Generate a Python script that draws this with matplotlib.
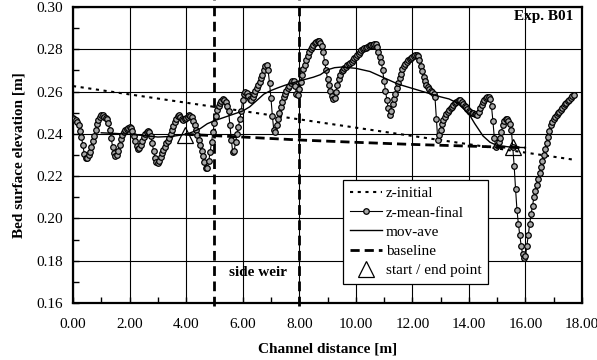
import numpy as np
import matplotlib
matplotlib.use("Agg")
import matplotlib.pyplot as plt
from matplotlib.ticker import MultipleLocator, FormatStrFormatter

plt.rcParams['font.family'] = ['Liberation Serif', 'DejaVu Serif']

# ---------------- data ----------------
# z-mean-final (read every 0.05 m)
zfinal_y = [
    0.2474, 0.2472, 0.2465, 0.2455, 0.2440, 0.2415, 0.2385, 0.2345, 0.2305, 0.2288,
    0.2288, 0.2298, 0.2315, 0.2340, 0.2365, 0.2392, 0.2420, 0.2445, 0.2465, 0.2480,
    0.2488, 0.2490, 0.2482, 0.2475, 0.2468, 0.2450, 0.2420, 0.2380, 0.2340, 0.2310,
    0.2295, 0.2302, 0.2320, 0.2348, 0.2375, 0.2395, 0.2410, 0.2418, 0.2425, 0.2430,
    0.2433, 0.2428, 0.2415, 0.2392, 0.2365, 0.2342, 0.2330, 0.2332, 0.2345, 0.2365,
    0.2385, 0.2400, 0.2408, 0.2412, 0.2410, 0.2390, 0.2355, 0.2318, 0.2285, 0.2268,
    0.2262, 0.2272, 0.2290, 0.2308, 0.2325, 0.2340, 0.2355, 0.2368, 0.2380, 0.2398,
    0.2420, 0.2438, 0.2455, 0.2472, 0.2485, 0.2488, 0.2478, 0.2470, 0.2465, 0.2468,
    0.2475, 0.2482, 0.2488, 0.2486, 0.2478, 0.2462, 0.2440, 0.2418, 0.2395, 0.2370,
    0.2345, 0.2320, 0.2295, 0.2268, 0.2240, 0.2238, 0.2270, 0.2315, 0.2360, 0.2410,
    0.2450, 0.2485, 0.2515, 0.2532, 0.2545, 0.2557, 0.2565, 0.2560, 0.2550, 0.2532,
    0.2510, 0.2440, 0.2370, 0.2312, 0.2320, 0.2360, 0.2400, 0.2432, 0.2470, 0.2510,
    0.2560, 0.2590, 0.2600, 0.2592, 0.2580, 0.2565, 0.2560, 0.2572, 0.2590, 0.2602,
    0.2615, 0.2630, 0.2645, 0.2662, 0.2680, 0.2700, 0.2720, 0.2725, 0.2700, 0.2640,
    0.2570, 0.2485, 0.2420, 0.2410, 0.2440, 0.2470, 0.2500, 0.2528, 0.2550, 0.2572,
    0.2590, 0.2605, 0.2615, 0.2628, 0.2640, 0.2648, 0.2650, 0.2628, 0.2590, 0.2585,
    0.2610, 0.2645, 0.2680, 0.2705, 0.2725, 0.2748, 0.2770, 0.2786, 0.2800, 0.2810,
    0.2820, 0.2828, 0.2835, 0.2840, 0.2840, 0.2832, 0.2815, 0.2785, 0.2740, 0.2700,
    0.2660, 0.2630, 0.2605, 0.2580, 0.2563, 0.2570, 0.2600, 0.2632, 0.2660, 0.2680,
    0.2695, 0.2703, 0.2710, 0.2718, 0.2725, 0.2730, 0.2735, 0.2742, 0.2750, 0.2758,
    0.2765, 0.2772, 0.2780, 0.2788, 0.2795, 0.2800, 0.2805, 0.2808, 0.2812, 0.2816,
    0.2820, 0.2821, 0.2822, 0.2824, 0.2825, 0.2810, 0.2785, 0.2765, 0.2740, 0.2700,
    0.2650, 0.2605, 0.2560, 0.2520, 0.2490, 0.2510, 0.2540, 0.2565, 0.2590, 0.2615,
    0.2640, 0.2662, 0.2685, 0.2705, 0.2720, 0.2730, 0.2740, 0.2748, 0.2755, 0.2760,
    0.2765, 0.2770, 0.2775, 0.2775, 0.2770, 0.2750, 0.2720, 0.2695, 0.2670, 0.2648,
    0.2630, 0.2620, 0.2610, 0.2605, 0.2600, 0.2590, 0.2575, 0.2470, 0.2370, 0.2395,
    0.2420, 0.2445, 0.2465, 0.2480, 0.2495, 0.2505, 0.2515, 0.2520, 0.2527, 0.2535,
    0.2545, 0.2550, 0.2555, 0.2558, 0.2560, 0.2550, 0.2540, 0.2532, 0.2525, 0.2518,
    0.2510, 0.2505, 0.2500, 0.2498, 0.2495, 0.2492, 0.2490, 0.2505, 0.2520, 0.2535,
    0.2550, 0.2560, 0.2568, 0.2572, 0.2575, 0.2565, 0.2530, 0.2460, 0.2380, 0.2340,
    0.2345, 0.2360, 0.2380, 0.2410, 0.2440, 0.2460, 0.2472, 0.2468, 0.2460, 0.2445,
    0.2420, 0.2340, 0.2250, 0.2140, 0.2040, 0.1975, 0.1920, 0.1870, 0.1830, 0.1812,
    0.1820, 0.1870, 0.1920, 0.1975, 0.2020, 0.2060, 0.2100, 0.2130, 0.2160, 0.2188,
    0.2215, 0.2242, 0.2270, 0.2300, 0.2330, 0.2358, 0.2385, 0.2412, 0.2440, 0.2458,
    0.2470, 0.2480, 0.2490, 0.2498, 0.2505, 0.2512, 0.2520, 0.2530, 0.2540, 0.2548,
    0.2555, 0.2562, 0.2570, 0.2578, 0.2585,
]
zfinal_step = 0.05
zfinal_x = np.round(np.arange(len(zfinal_y)) * zfinal_step, 2)

# z-initial
zinit_x = [0.0, 17.75]
zinit_y = [0.2626, 0.2277]

# moving average
movave_x = [1.0, 1.5, 2.0, 2.5, 3.0, 3.5, 4.0, 4.25, 4.5, 4.75, 5.0, 5.5, 6.0, 6.25,
            6.5, 6.75, 7.0, 7.25, 7.5, 8.0, 8.5, 8.75, 9.0, 9.25, 9.5, 10.0, 10.5,
            11.0, 11.5, 12.0, 12.5, 13.0, 13.3, 13.6, 13.8, 14.0, 14.2, 14.5, 14.75,
            15.0, 15.5, 16.0]
movave_y = [0.2405, 0.2402, 0.2398, 0.2392, 0.2385, 0.2388, 0.2398, 0.2410, 0.2425,
            0.2448, 0.2462, 0.2485, 0.2508, 0.2528, 0.2558, 0.2588, 0.2605, 0.2618,
            0.2630, 0.2650, 0.2668, 0.2680, 0.2703, 0.2713, 0.2716, 0.2710, 0.2695,
            0.2665, 0.2635, 0.2615, 0.2595, 0.2575, 0.2565, 0.2545, 0.2520, 0.2495,
            0.2450, 0.2390, 0.2360, 0.2345, 0.2337, 0.2335]

# baseline
base_x = [3.95, 6.0, 8.0, 10.0, 12.0, 14.0, 16.0]
base_y = [0.2398, 0.2385, 0.2371, 0.2360, 0.2350, 0.2342, 0.2334]

# start / end points
se_x = [3.95, 15.55]
se_y = [0.2395, 0.2340]

weir_x = [5.0, 8.0]

# ---------------- figure ----------------
fig = plt.figure(figsize=(5.97, 3.60), dpi=100)
ax = fig.add_axes([73/597, 1-303/360, (582-73)/597, (303-7)/360])

ax.set_xlim(0, 18)
ax.set_ylim(0.16, 0.30)
ax.xaxis.set_major_locator(MultipleLocator(2))
ax.xaxis.set_minor_locator(MultipleLocator(1))
ax.yaxis.set_major_locator(MultipleLocator(0.02))
ax.yaxis.set_minor_locator(MultipleLocator(0.01))
ax.xaxis.set_major_formatter(FormatStrFormatter('%.2f'))
ax.yaxis.set_major_formatter(FormatStrFormatter('%.2f'))
ax.grid(True, which='major', color='black', lw=0.8)
ax.set_axisbelow(True)
ax.tick_params(which='both', direction='in', top=False, right=False,
               labelsize=11, length=4, width=1)
ax.tick_params(axis='x', pad=11)
ax.tick_params(axis='y', pad=7)
for s in ax.spines.values():
    s.set_linewidth(1.6)

l1, = ax.plot(zinit_x, zinit_y, color='black', lw=1.5, dashes=(1.5, 2.2),
              label='z-initial')
l2, = ax.plot(zfinal_x, zfinal_y, color='black', lw=0.8, marker='o', ms=4.0,
              mfc='#a8a8a8', mec='black', mew=0.9, label='z-mean-final', zorder=4)
l3, = ax.plot(movave_x, movave_y, color='black', lw=1.0, label='mov-ave', zorder=5)
l4, = ax.plot(base_x, base_y, color='black', lw=2.0, dashes=(3.3, 1.8),
              label='baseline', zorder=5)
l5, = ax.plot(se_x, se_y, ls='none', marker='^', ms=11.5, mfc='none', mec='black',
              mew=0.9, label='start / end point', zorder=6)

for wx in weir_x:
    ax.plot([wx, wx], [0.1585, 0.3035], color='black', lw=2.0, dashes=(3.5, 2.0),
            clip_on=False, zorder=3)

ax.text(17.7, 0.2955, 'Exp. B01', ha='right', va='center', fontsize=11,
        fontweight='bold')
ax.text(5.5, 0.1746, 'side weir', ha='left', va='center', fontsize=11,
        fontweight='bold')

ax.set_xlabel('Channel distance [m]', fontsize=11, fontweight='bold', labelpad=8)
ax.set_ylabel('Bed surface elevation [m]', fontsize=11, fontweight='bold', labelpad=8)

leg = ax.legend(handles=[l1, l2, l3, l4, l5], loc='lower left',
                bbox_to_anchor=(0.53, 0.064), fontsize=11, numpoints=1,
                fancybox=False, framealpha=1, edgecolor='black',
                handlelength=2.1, handletextpad=0.25, labelspacing=0.36,
                borderpad=0.45, borderaxespad=0)
leg.get_frame().set_linewidth(0.9)
leg.set_zorder(10)

fig.savefig('out.png', dpi=100)
